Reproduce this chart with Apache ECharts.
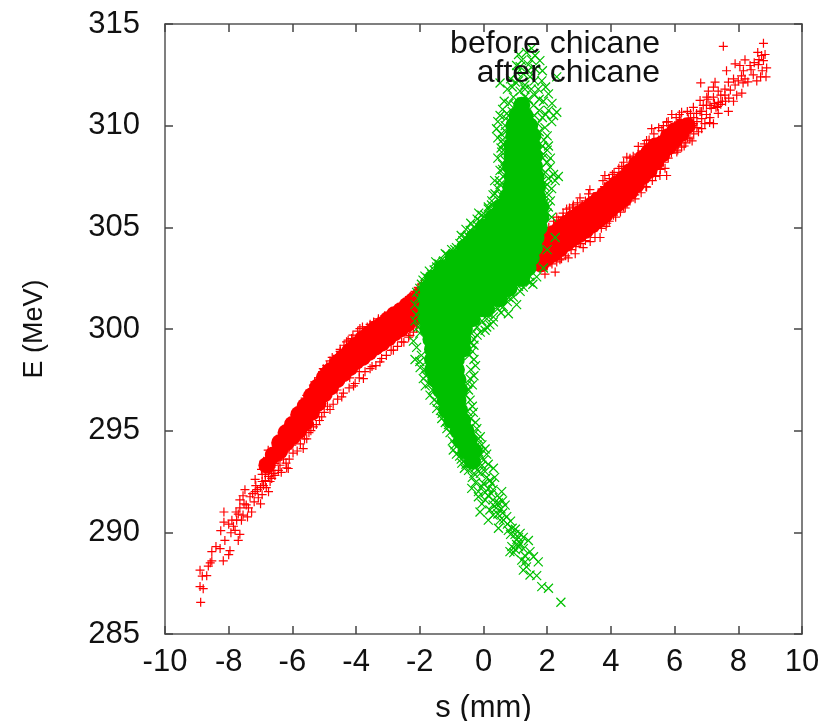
<!DOCTYPE html>
<html>
<head>
<meta charset="utf-8">
<style>html,body{margin:0;padding:0;background:#fff}#echarts{width:836px;height:721px}</style>
<script src="https://cdn.jsdelivr.net/npm/echarts@6/dist/echarts.min.js"></script>
</head>
<body>
<div id="echarts"></div>
<script>
const legendLabels = ['before chicane', 'after chicane'];
const FONT = '"Liberation Sans", Arial, sans-serif';

const redCoreColumns = [
  [-6.8, [293.3]], [-6.6, [293.8]], [-6.4, [294.0, 294.4]], [-6.2, [294.4, 294.9]], [-6.0, [294.7, 295.3]], [-5.8, [295.0, 295.4, 295.8]], [-5.6, [295.4, 295.8, 296.2]],
  [-5.4, [295.9, 296.3, 296.7]], [-5.2, [296.35, 296.75, 297.15]], [-5.0, [296.8, 297.2, 297.6]], [-4.8, [297.15, 297.55, 297.95]],
  [-4.6, [297.5, 297.9, 298.3]], [-4.4, [297.8, 298.2, 298.6]], [-4.2, [298.1, 298.5, 298.9]],
  [-4.0, [298.4, 298.8, 299.2]], [-3.8, [298.6, 299.05, 299.5]], [-3.6, [298.85, 299.3, 299.75]],
  [-3.4, [299.1, 299.55, 300.0]], [-3.2, [299.3, 299.75, 300.2]], [-3.0, [299.55, 300.0, 300.45]],
  [-2.8, [299.8, 300.25, 300.7]], [-2.6, [300.0, 300.45, 300.9]], [-2.4, [300.25, 300.7, 301.15]],
  [-2.2, [300.5, 300.95, 301.4]], [-2.0, [300.75, 301.2, 301.65]],
  [1.8, [303.2, 303.7, 304.2]], [2.0, [303.5, 304.0, 304.5]], [2.2, [303.7, 304.2, 304.7]],
  [2.4, [303.95, 304.45, 304.95]], [2.6, [304.2, 304.7, 305.2]], [2.8, [304.45, 304.95, 305.45]],
  [3.0, [304.65, 305.15, 305.65]], [3.2, [304.85, 305.35, 305.85]], [3.4, [305.1, 305.6, 306.1]],
  [3.6, [305.35, 305.85, 306.35]], [3.8, [305.6, 306.1, 306.6]], [4.0, [305.9, 306.4, 306.9]],
  [4.2, [306.15, 306.65, 307.15]], [4.4, [306.4, 306.9, 307.4]], [4.6, [306.75, 307.25, 307.75]],
  [4.8, [307.1, 307.6, 308.1]], [5.0, [307.5, 307.95, 308.4]], [5.2, [307.8, 308.25, 308.7]],
  [5.4, [308.2, 308.6, 309.0]], [5.6, [308.6, 309.1]], [5.8, [308.95, 309.45]], [6.0, [309.3, 309.75]], [6.2, [309.6, 309.9]], [6.4, [310.0]]
];

// loose red points around the band and at both tails: [s, E]
const redPoints = [
  [-8.88,286.56],[-8.9,287.33],[-8.8,287.23],[-8.9,288.14],[-8.83,287.85],[-8.69,287.87],[-8.64,288.34],[-8.53,288.6],
  [-8.58,288.5],[-8.17,288.6],[-8.53,289.05],[-8.4,289.3],[-8.27,289.2],[-8.0,288.9],[-7.96,289.1],[-8.12,289.6],
  [-8.25,290.08],[-8.15,290.5],[-8.15,291.0],[-8.0,290.4],[-7.93,289.98],[-7.8,290.1],[-7.7,289.6],[-7.65,289.9],
  [-7.75,290.6],[-7.77,291.0],[-7.65,291.2],[-7.6,290.6],[-7.41,290.76],[-7.28,291.0],[-7.38,291.2],[-7.65,291.6],
  [-7.52,291.4],[-7.49,292.1],[-7.33,291.75],[-7.17,292.0],[-7.07,291.7],[-7.0,292.2],[-6.75,292.0],[-6.91,292.3],
  [-7.17,292.6],[-6.97,293.1],[-6.81,293.4],[-6.65,292.65],[-6.55,292.8],[-6.44,293.05],[-6.18,293.17],[-6.39,293.3],
  [-6.76,294.04],[-6.55,294.1],[-6.39,294.45],[-6.23,295.0],[-5.92,295.76],[-5.66,296.34],[-5.55,296.74],[-5.34,297.24],
  [-5.03,298.05],[-4.82,298.43],[-4.6,298.7],[-4.3,299.37],[-3.88,300.02],[-4.14,299.53],[-3.56,300.23],[-3.3,300.4],
  [-6.13,293.14],[-5.66,294.12],[-5.55,294.6],[-5.34,295.19],[-5.08,295.68],[-4.82,296.04],[-4.45,296.66],[-4.03,297.32],
  [-3.77,297.56],[-3.56,298.05],[-3.25,298.38],[-2.83,298.96],[-2.57,299.37],[-2.31,299.69],[-6.6,293.88],[-6.39,293.71],
  [-6.7,293.22],[-6.55,293.39],[-6.23,293.96],[-6.02,294.29],[-5.87,294.7],[-6.13,294.78],[-5.97,295.19],[-5.71,295.0],
  [-5.55,295.52],[-6.85,292.85],[-6.7,292.5],[-6.3,294.1],[-6.45,294.0],[-6.9,293.5],[-5.1,296.2],[-5.25,295.9],
  [-5.45,295.3],[-5.0,298.0],[-4.5,299.0],[-4.6,297.0],[-4.2,297.6],[-3.9,297.9],
  [-6.95,292.5],[-6.88,293.3],[-6.82,292.2],[-6.72,293.7],[-6.66,293.05],[-6.6,292.9],[-6.5,293.6],[-6.47,294.3],
  [-6.35,292.95],[-6.28,293.6],[-6.25,294.6],[-6.1,293.6],[-6.05,294.9],[-5.98,293.9],[-5.9,295.4],[-5.85,294.0],
  [-5.78,296.0],[-5.75,294.35],[-5.62,294.6],[-5.6,296.6],[-5.48,294.9],[-5.45,297.0],[-5.42,295.0],[-5.3,297.4],
  [-5.25,295.3],[-5.18,297.6],[-5.15,295.5],[-5.05,297.9],[-5.0,295.9],[-4.92,298.2],[-4.9,296.2],[-4.75,298.6],
  [-4.72,296.3],[-4.65,298.55],[-4.58,296.55],[-4.5,298.9],[-4.4,296.85],[-4.38,299.2],[-4.25,299.45],[-4.22,297.1],
  [-4.1,299.7],[-4.08,297.2],[-3.95,299.9],[-3.9,297.6],[-3.8,300.1],[-3.72,297.9],[-3.65,300.1],[-3.5,298.15],
  [-3.45,300.35],[-3.38,298.2],[-3.3,300.5],[-3.2,298.55],[-3.1,300.65],[-3.05,298.7],[-2.95,300.7],[-2.9,298.95],
  [-2.75,301.0],[-2.7,299.15],[-2.6,301.15],[-2.5,299.35],[-2.45,301.4],[-2.35,299.6],[-2.3,301.6],[-2.2,299.85],
  [-2.15,301.85],[-2.1,300.05],[-2.05,302.05],[-1.95,302.2],
  [-7.25,291.9],[-7.15,292.3],[-6.95,291.85],[-6.85,292.55],[-6.95,292.85],[-6.75,292.75],[-6.65,293.3],[-6.45,293.55],
  [-6.35,293.75],[-6.2,293.4],[-6.2,294.2],[-6.1,294.2],[-6.3,294.7],[-7.55,290.85],[-7.45,291.35],[-7.9,290.6],
  [-7.85,290.3],[-7.7,290.9],[-7.55,291.8],[-7.2,291.5],[-7.1,292.1],[-7.0,291.4],
  [8.79,314.05],[7.53,313.9],[8.61,313.6],[8.84,313.5],[8.73,313.45],[8.79,313.2],[8.21,313.24],[7.9,313.04],
  [8.05,312.96],[8.37,312.96],[8.63,313.0],[8.89,312.84],[7.63,312.7],[8.16,312.7],[8.47,312.5],[8.87,312.4],
  [8.58,312.2],[8.21,312.3],[8.1,312.45],[6.82,312.1],[7.27,312.14],[7.69,312.14],[7.9,312.0],[7.58,311.8],
  [7.22,311.9],[7.06,311.7],[7.37,311.7],[8.11,311.6],[7.95,311.5],[7.58,311.5],[7.22,311.4],[7.01,311.4],
  [6.8,311.24],[7.37,311.15],[7.11,311.0],[6.59,310.9],[7.69,310.7],[6.22,310.66],[5.91,310.55],[6.69,310.6],
  [7.37,310.6],[7.11,310.4],[6.43,310.34],[5.75,310.17],[7.22,310.1],[6.59,310.1],[6.95,310.1],[5.28,309.85],
  [6.85,309.85],[5.6,309.76],[6.17,309.76],[5.96,309.6],[6.48,309.35],[6.28,309.5],[5.12,309.27],[4.86,308.98],
  [6.22,308.94],[6.07,308.7],[4.5,308.45],[5.7,308.6],[5.7,307.9],[5.44,308.05],[4.34,308.0],[3.81,307.55],
  [5.54,307.55],[5.75,307.55],[5.12,306.98],[4.76,306.4],[3.34,306.85],[3.03,306.45],[2.61,305.9],[2.3,305.5],
  [4.5,306.24],[4.08,305.6],[3.66,304.5],[3.13,304.0],[2.66,303.5],[2.25,302.8],[1.93,302.7],[2.88,303.7],
  [3.87,305.2],[5.9,309.1],[6.0,310.0],[5.8,309.4],[6.3,310.1],[6.45,309.8],[6.6,309.6],[6.35,309.15],
  [6.7,309.9],[6.1,309.2],[6.2,310.3],[5.5,309.3],[6.5,310.6],[6.8,310.7],[7.0,311.0],[7.5,311.2],
  [7.3,310.9],[7.45,311.5],[4.9,307.0],[4.4,306.0],[3.5,305.0],[3.0,304.3],[2.4,303.4],[3.8,307.0],
  [3.2,306.3],[4.1,307.7],[2.8,306.0],[2.5,305.5],
  [2.0,303.1],[2.05,305.0],[2.15,303.2],[2.2,305.3],[2.3,303.3],[2.35,305.35],[2.45,303.45],[2.5,305.7],
  [2.58,303.6],[2.7,305.95],[2.75,303.9],[2.82,306.1],[2.9,304.05],[2.95,306.2],[3.05,304.2],[3.1,306.1],
  [3.2,304.35],[3.3,306.65],[3.35,304.3],[3.45,306.5],[3.5,304.5],[3.6,306.7],[3.7,304.95],[3.75,307.3],
  [3.85,305.05],[3.95,307.4],[3.95,305.3],[4.05,307.6],[4.15,305.5],[4.25,307.9],[4.3,305.75],[4.4,308.2],
  [4.45,305.95],[4.6,308.4],[4.6,306.3],[4.7,308.5],[4.75,306.6],[4.85,308.6],[4.95,306.7],[5.05,309.1],
  [5.1,307.0],[5.2,309.3],[5.3,307.3],[5.35,309.6],[5.4,307.5],[5.5,309.9],[5.55,307.85],[5.65,310.0],
  [5.65,308.2],[5.8,310.2],[5.8,308.4],[5.9,308.65],[6.0,308.9],[6.05,310.4],[6.1,308.8],[6.15,310.55],
  [6.3,309.0],[6.4,310.7],[6.4,309.4],[6.55,309.25],[6.6,310.4],[6.75,309.7],[6.85,310.35],[7.0,310.55],
  [7.1,310.15],[7.15,310.85],[7.25,311.1],[7.35,310.95],[7.45,311.05],[7.6,311.2],[7.7,311.35],[7.85,311.2],
  [7.75,311.75],[7.85,312.3],[8.0,312.2],[8.15,312.1],[8.3,312.15],[8.4,312.75],[8.5,313.1],[8.65,313.25],
  [8.75,312.7],[8.7,312.4],[5.4,309.1],[5.7,309.5],[5.9,309.9],[6.05,309.3],[6.2,309.6],[6.3,309.9],
  [6.4,310.1],[6.55,310.0],[6.7,310.2],[6.85,310.7],[6.9,311.0],[7.05,311.3]
];

const greenCoreRows = [
  [311, [1.2]], [310.5, [1.05, 1.3]], [310, [0.95, 1.2, 1.45]], [309.5, [0.95, 1.2, 1.45, 1.55]], [309, [0.9, 1.15, 1.4, 1.55]],
  [308.5, [0.9, 1.15, 1.4, 1.6]], [308, [0.85, 1.1, 1.35, 1.6]], [307.5, [0.9, 1.15, 1.4, 1.65]],
  [307, [0.85, 1.1, 1.35, 1.6, 1.7]], [306.5, [0.75, 1.0, 1.25, 1.5, 1.7]], [306, [0.55, 0.8, 1.05, 1.3, 1.55, 1.8]],
  [305.5, [0.3, 0.55, 0.8, 1.05, 1.3, 1.55, 1.8]], [305, [0, 0.25, 0.5, 0.75, 1.0, 1.25, 1.5, 1.75]],
  [304.5, [-0.3, -0.05, 0.2, 0.45, 0.7, 0.95, 1.2, 1.45, 1.65]], [304, [-0.6, -0.35, -0.1, 0.15, 0.4, 0.65, 0.9, 1.15, 1.4, 1.6]],
  [303.5, [-0.95, -0.7, -0.45, -0.2, 0.05, 0.3, 0.55, 0.8, 1.05, 1.3, 1.5]],
  [303, [-1.3, -1.05, -0.8, -0.55, -0.3, -0.05, 0.2, 0.45, 0.7, 0.95, 1.2, 1.4]],
  [302.5, [-1.6, -1.35, -1.1, -0.85, -0.6, -0.35, -0.1, 0.15, 0.4, 0.65, 0.9, 1.15, 1.2]],
  [302, [-1.75, -1.5, -1.25, -1, -0.75, -0.5, -0.25, 0, 0.25, 0.5, 0.75, 0.8]],
  [301.5, [-1.8, -1.55, -1.3, -1.05, -0.8, -0.55, -0.3, -0.05, 0.2, 0.45, 0.5]],
  [301, [-1.8, -1.55, -1.3, -1.05, -0.8, -0.55, -0.3, -0.05, 0.1]],
  [300.5, [-1.8, -1.55, -1.3, -1.05, -0.8, -0.55, -0.35]],
  [300, [-1.75, -1.5, -1.25, -1, -0.75, -0.6]], [299.5, [-1.65, -1.4, -1.15, -0.9, -0.65]],
  [299, [-1.6, -1.35, -1.1, -0.85, -0.65]], [298.5, [-1.6, -1.35, -1.1, -0.85]], [298, [-1.6, -1.35, -1.1, -0.85]],
  [297.5, [-1.5, -1.25, -1, -0.8]], [297, [-1.35, -1.1, -0.85, -0.75]], [296.5, [-1.2, -0.95, -0.8]],
  [296, [-1.15, -0.9, -0.75]], [295.5, [-1, -0.8, -0.65]], [295, [-0.8, -0.55]], [294.5, [-0.7, -0.45]], [294, [-0.55, -0.3]], [293.5, [-0.35]]
];

// loose green points around the shape and along both arms: [s, E]
const greenPoints = [
  [1.51,313.8],[1.62,313.45],[1.2,313.2],[1.77,313.2],[1.04,312.96],[1.41,313.0],[1.62,312.8],[2.3,312.4],
  [1.25,312.55],[1.0,312.14],[1.46,312.4],[0.52,312.1],[1.83,312.2],[1.15,311.7],[1.72,311.8],[2.04,311.56],
  [0.94,311.4],[1.41,311.3],[1.88,311.2],[2.3,310.66],[0.73,310.6],[0.52,310.5],[1.09,310.9],[1.57,311.0],
  [2.04,310.75],[2.14,310.2],[0.41,309.85],[0.68,310.0],[1.93,309.9],[0.83,309.6],[2.0,309.5],[0.62,309.1],
  [2.04,309.0],[0.57,308.7],[1.88,308.6],[0.68,308.3],[2.0,308.2],[2.09,307.96],[0.52,307.8],[2.35,307.5],
  [2.04,307.4],[0.62,307.5],[0.36,306.65],[0.52,307.1],[1.93,307.0],[2.14,306.9],[0.26,306.3],[1.88,306.5],
  [0.52,306.25],[2.04,306.0],[0.1,305.4],[0.36,305.8],[2.14,305.5],[1.3,312.0],[1.5,311.8],[1.3,311.4],
  [1.0,311.0],[1.6,310.5],[1.7,310.1],[0.85,310.2],[1.55,309.8],[1.65,309.3],[0.8,309.1],[1.75,308.8],
  [0.8,308.4],[1.7,308.3],[1.8,307.9],[0.75,307.7],[0.75,306.9],[1.85,307.3],[1.9,306.2],[0.55,306.6],
  [1.1,313.5],[1.35,313.6],[1.5,313.25],[1.05,312.6],[0.85,312.3],[1.6,312.2],[1.1,312.2],[1.95,311.9],
  [0.75,311.8],[0.9,311.9],[1.3,311.8],[1.6,311.5],[1.75,311.3],[0.65,311.2],[0.8,311.1],[2.15,311.1],
  [1.2,311.15],[1.95,310.55],[0.6,310.8],[0.9,310.7],[1.75,310.75],[0.45,310.2],[0.7,310.35],[1.85,310.4],
  [2.2,310.5],[0.55,309.6],[0.7,309.7],[1.75,309.7],[1.9,309.3],[0.45,309.4],[0.6,309.3],[1.85,309.0],
  [2.0,308.8],[0.55,308.9],[0.7,308.75],[0.45,308.4],[1.85,308.4],[2.1,308.4],[0.6,308.1],[0.5,307.3],
  [0.6,307.85],[1.95,307.7],[2.2,307.6],[2.25,307.3],[0.35,307.3],[0.45,306.9],[2.05,306.6],[2.0,307.1],
  [0.3,306.6],[0.15,305.9],[2.1,306.3],[2.0,305.7],[0.25,306.1],[1.4,312.7],[1.15,312.9],[1.85,312.7],
  [0.15,306.0],[-0.11,305.3],[-0.42,304.85],[-0.74,304.2],[-1.05,303.5],[-1.47,303.05],[-1.84,302.6],[-1.63,302.7],
  [-1.27,303.3],[-0.58,304.5],[-0.2,305.1],[0.05,305.6],[-0.9,303.9],[-1.95,302.2],[-2.1,301.8],[-2.15,301.2],
  [-2.1,300.7],[-2.05,300.1],[-2.2,299.4],[1.67,302.56],[1.25,302.06],[0.94,301.57],[0.62,301.1],[0.31,300.6],
  [1.46,302.3],[0.78,300.75],[0.1,300.1],[1.04,301.2],[1.88,303.0],[2.25,304.5],[2.0,303.9],[0.31,300.35],
  [-0.05,305.6],[-0.2,305.4],[-0.3,305.0],[-0.5,304.6],[-0.55,304.9],[-0.65,304.35],[-0.85,304.0],[-0.95,303.7],
  [-1.15,303.65],[-1.25,303.35],[-1.4,303.2],[-1.55,302.9],[-1.7,302.85],[-1.75,302.5],[-1.9,302.4],[-2.0,302.0],
  [-2.05,301.5],[-2.0,300.9],[-2.15,300.4],[-2.0,299.8],[-2.1,299.1],[-1.95,298.7],[-2.0,298.4],[-1.85,298.0],
  [-1.8,297.7],[-1.7,297.3],[-1.6,297.0],[-1.55,296.5],[-1.45,296.4],[-1.35,296.0],[-1.3,295.85],[-1.2,295.4],
  [-1.1,295.3],[-1.05,294.9],[-0.9,294.3],[-0.85,293.85],[-0.8,294.6],[-0.7,293.6],
  [-1.0,303.9],[-0.7,304.6],[-0.4,305.2],[-0.15,305.7],[-1.5,303.3],[-1.2,303.7],[1.45,302.6],[1.1,302.1],
  [0.8,301.55],[0.5,301.2],[0.15,300.75],[-0.05,300.4],[-0.2,299.7],[-0.3,299.2],
  [1.55,302.2],[1.35,302.4],[1.15,301.85],[0.85,301.8],[0.75,301.35],[0.55,300.8],[0.45,301.0],[0.2,300.2],
  [0.1,300.5],[-0.1,299.85],[-0.2,300.1],[-0.3,299.5],[-0.4,299.3],[-0.35,298.9],[-0.3,298.5],[-0.45,298.7],
  [-0.25,298.2],[-0.4,298.0],[-0.3,297.7],[-0.35,297.25],[-0.5,297.3],[-0.55,296.75],[-0.35,296.2],[-0.5,295.95],
  [-0.4,295.6],[-0.25,295.4],[-0.3,294.85],[-0.1,294.7],[-0.35,294.4],[-0.05,294.3],[-0.15,293.95],[0.1,293.85],
  [-0.05,293.3],[0.15,293.35],[-0.3,293.45],[-0.55,293.35],[-0.6,293.15],[-0.15,293.0],[-0.35,292.7],[0.05,293.0],
  [-0.25,292.45],[0.2,292.55],[0.35,292.7],[0.15,292.15],[0.3,292.1],[0.05,291.6],[0.25,291.9],[-0.05,291.4],
  [0.5,291.7],[0.6,291.55],[0.55,291.15],[0.3,290.85],[0.45,290.9],[0.6,290.95],[0.75,290.4],[0.85,290.55],
  [0.9,290.2],[1.0,290.15],[1.1,289.75],[1.25,289.75],[1.15,289.45],[1.0,289.15],[0.95,289.0],[1.1,289.3],
  [0.05,299.94],[-0.37,299.77],[-0.53,299.2],[-2.15,298.5],[-1.99,298.1],[-1.89,297.56],[-1.83,297.2],[-1.68,296.75],
  [-1.47,296.1],[-1.31,295.6],[-1.15,295.1],[-0.95,294.05],[-0.98,294.5],[-0.68,293.4],[-0.47,293.05],[-0.37,292.16],
  [-0.11,291.0],[-0.16,291.75],[0.15,290.6],[0.47,290.2],[-0.42,297.56],[-0.47,297.0],[-0.32,295.9],[-0.42,296.5],
  [-0.21,295.1],[-0.16,294.6],[0.05,294.1],[0.0,293.55],[0.31,293.15],[0.1,292.7],[0.26,292.4],[0.57,292.0],
  [0.42,291.4],[0.68,291.34],[0.73,290.77],[0.52,290.6],[0.63,290.6],[0.78,290.1],[0.99,289.9],[1.15,289.95],
  [1.41,289.6],[0.89,289.3],[1.04,289.4],[0.83,289.05],[1.46,289.05],[1.57,288.8],[1.72,288.55],[1.31,288.55],
  [1.2,288.63],[1.25,288.14],[1.46,287.9],[1.67,287.87],[1.83,287.33],[2.04,287.25],[2.43,286.56],[-0.63,293.9],
  [-0.42,293.7],[-0.27,294.05],[-0.75,293.75],[-0.5,294.2],[-0.2,293.4],[-0.3,292.9],[-0.1,292.9],[0.0,292.4],
  [-0.16,292.0],[-0.05,292.25],[0.05,291.95],[0.15,291.8],[0.3,291.6],[0.4,291.2],[0.3,291.35],[0.47,291.45],
  [-0.85,294.9],[-0.7,294.1],[-0.4,294.0],[-0.2,294.3],[-0.1,293.8],[-0.25,293.2],[0.2,291.1],[0.85,289.9],
  [1.05,289.65],[1.25,289.2],[1.3,288.85],[1.35,288.3]
];

const redCore = redCoreColumns.flatMap(([s, list]) => list.map(e => [s, e]));
const greenCore = greenCoreRows.flatMap(([e, list]) => list.map(s => [s, e]));

const PLUS = 'path://M0 5H10M5 0V10';
const CROSS = 'path://M0 0L10 10M0 10L10 0';

let myChart = echarts.init(document.getElementById('echarts'), null, { renderer: 'canvas' });

function frameAxis(extra) {
  return Object.assign({
    type: 'value',
    axisLine: { show: true, onZero: false, lineStyle: { color: '#555', width: 1.5 } },
    axisTick: { show: true, inside: true, length: 8, lineStyle: { color: '#444', width: 1.5 } },
    splitLine: { show: false },
  }, extra);
}

function markerSeries(data, symbol, color) {
  return {
    type: 'scatter',
    data,
    symbol,
    symbolSize: 9,
    large: false,
    silent: true,
    animation: false,
    itemStyle: { color: 'transparent', borderColor: color, borderWidth: 1.2, opacity: 1 },
  };
}

function coreSeries(data, color) {
  return {
    type: 'scatter',
    data,
    symbol: 'circle',
    symbolSize: 17,
    silent: true,
    animation: false,
    itemStyle: { color, opacity: 1 },
  };
}

let option = {
  animation: false,
  grid: { left: 165, right: 34, top: 24, bottom: 87, outerBoundsMode: 'none' },
  xAxis: [
    frameAxis({
      min: -10, max: 10, interval: 2,
      position: 'bottom',
      name: 's (mm)', nameLocation: 'middle', nameGap: 59,
      nameTextStyle: { fontFamily: FONT, fontSize: 31, color: '#111' },
      axisLabel: { fontFamily: FONT, fontSize: 31, color: '#111', margin: 13 },
    }),
    frameAxis({ min: -10, max: 10, interval: 2, position: 'top', axisLabel: { show: false } }),
  ],
  yAxis: [
    frameAxis({
      min: 285, max: 315, interval: 5,
      position: 'left',
      name: 'E (MeV)', nameLocation: 'middle', nameGap: 117,
      nameTextStyle: { fontFamily: FONT, fontSize: 27, color: '#111' },
      axisLabel: { fontFamily: FONT, fontSize: 31, color: '#111', margin: 25 },
    }),
    frameAxis({ min: 285, max: 315, interval: 5, position: 'right', axisLabel: { show: false } }),
  ],
  series: [
    coreSeries(redCore, '#ff0000'),
    markerSeries(redPoints, PLUS, '#ff0000'),
    coreSeries(greenCore, '#00c000'),
    markerSeries(greenPoints, CROSS, '#00c000'),
  ],
  graphic: legendLabels.map((text, i) => ({
    type: 'text',
    right: 176,
    top: 28 + i * 29,
    z: 100,
    style: { text, fontFamily: FONT, fontSize: 32, fill: '#111' },
  })),
};
myChart.setOption(option);
</script>
</body>
</html>
